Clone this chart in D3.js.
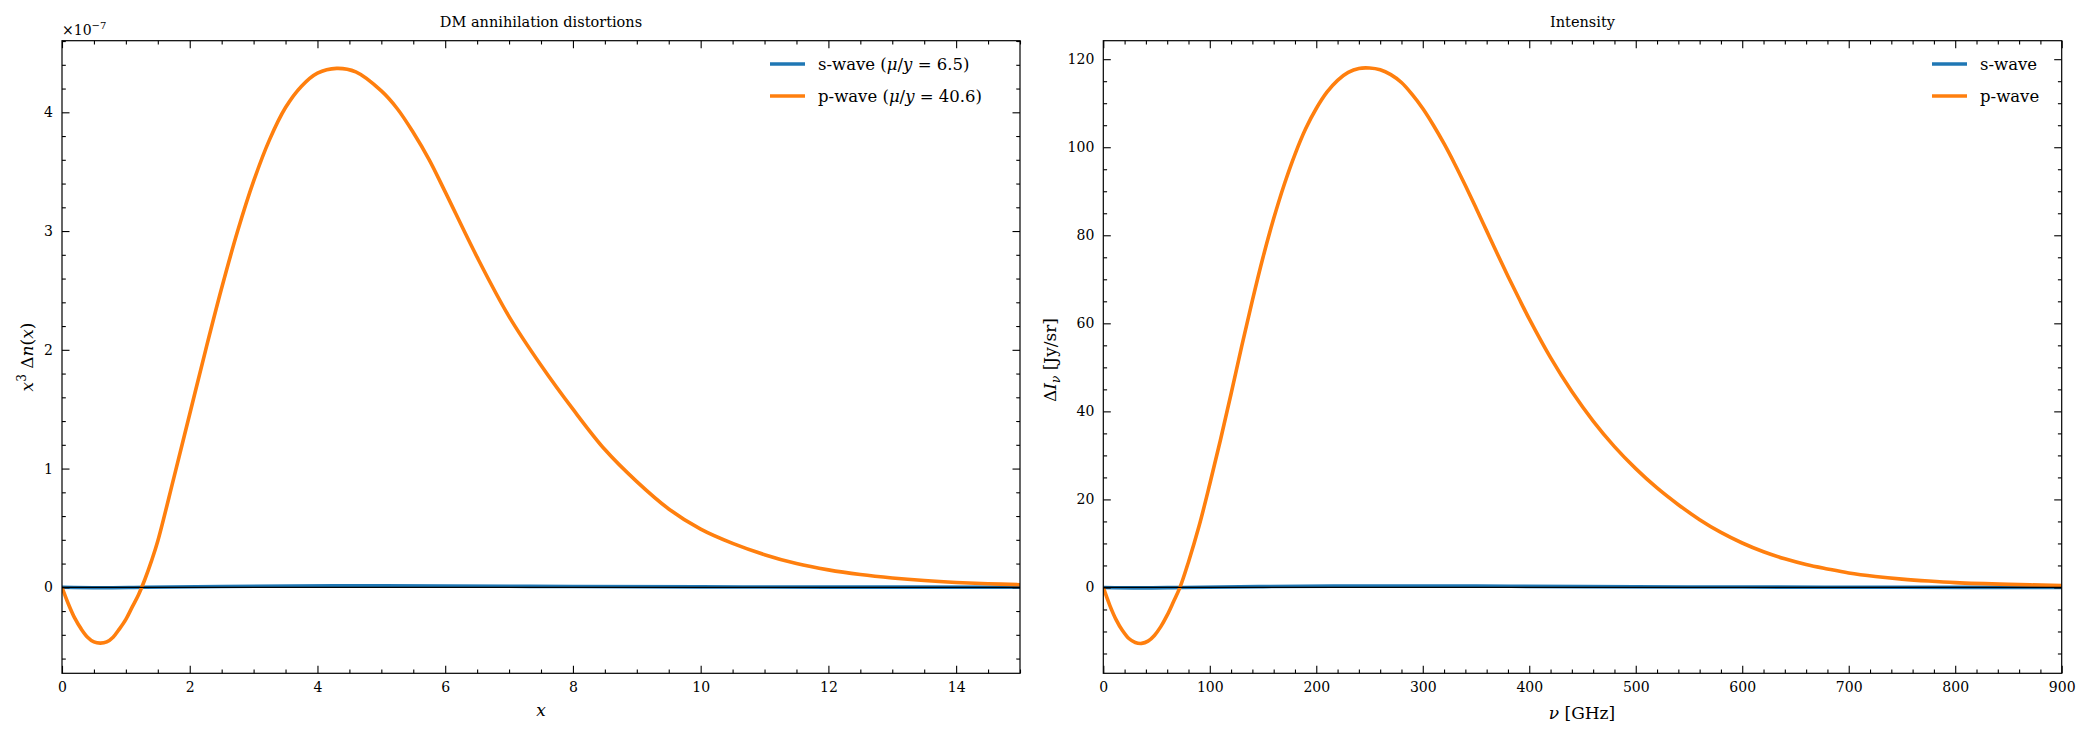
<!DOCTYPE html>
<html>
<head>
<meta charset="utf-8">
<script src="https://cdn.jsdelivr.net/npm/d3@7"></script>
<style>
  body { margin: 0; background: #fff; }
  text { font-family: "DejaVu Serif", serif; fill: #000; }
</style>
</head>
<body>
<svg id="chart" width="2089" height="739"></svg>
<script>
// left panel: x vs x^3 Δn(x)  (values in units of 1e-7)
const xGrid = [0, 0.1, 0.2, 0.3, 0.4, 0.5, 0.6, 0.7, 0.8, 0.9, 1.0, 1.1, 1.2, 1.3, 1.4, 1.5, 1.75, 2.0, 2.25, 2.5, 2.75,
  3.0, 3.25, 3.5, 3.75, 4.0, 4.3, 4.6, 5.0, 5.25, 5.5, 5.75, 6.0, 6.5, 7.0, 7.5, 8.0, 8.5, 9.0, 9.5, 10, 10.5, 11, 11.5,
  12, 12.5, 13, 13.5, 14, 14.5, 15];
const pwaveDn = [0, -0.14, -0.26, -0.35, -0.42, -0.46, -0.47, -0.46, -0.42, -0.35, -0.27, -0.165, -0.06, 0.07, 0.22,
  0.39, 0.92, 1.46, 2.0, 2.52, 3.0, 3.42, 3.77, 4.04, 4.22, 4.33, 4.37, 4.34, 4.18, 4.03, 3.83, 3.60, 3.33, 2.78, 2.28,
  1.87, 1.50, 1.16, 0.89, 0.66, 0.49, 0.37, 0.275, 0.20, 0.147, 0.108, 0.079, 0.057, 0.041, 0.030, 0.022];
const swaveX = [0, 0.6, 1.3, 2.5, 4.3, 6, 8, 10, 12, 15];
const swaveDn = [0, -0.004, 0, 0.007, 0.012, 0.011, 0.007, 0.004, 0.002, 0.001];

// right panel: ν [GHz] vs ΔI_ν [Jy/sr]
const nuGrid = [0, 6, 12, 18, 24, 30, 36, 42, 48, 54, 60, 66, 72, 80, 90, 100, 110, 120, 130, 140, 150, 160, 170, 180,
  190, 200, 210, 220, 230, 240, 250, 260, 270, 280, 290, 300, 310, 320, 330, 340, 350, 360, 370, 380, 390, 400, 420,
  440, 460, 480, 500, 520, 540, 560, 580, 600, 620, 640, 660, 680, 700, 725, 750, 775, 800, 850, 900];
const pwaveI = [0, -4, -7.3, -9.8, -11.6, -12.5, -12.7, -12.2, -10.9, -8.9, -6.3, -3.2, 0, 5.8, 14, 23.5, 33.5, 44, 54.8,
  65.2, 75, 83.8, 91.6, 98.4, 104.2, 108.8, 112.5, 115.2, 117, 117.9, 118, 117.6, 116.5, 114.7, 112.0, 108.8, 105.0,
  100.8, 96.2, 91.3, 86.2, 81.0, 75.8, 70.7, 65.8, 61, 52.2, 44.5, 37.8, 32, 27, 22.6, 18.8, 15.4, 12.5, 10.1, 8.1,
  6.5, 5.2, 4.2, 3.3, 2.5, 1.9, 1.45, 1.1, 0.7, 0.45];
const swaveNu = [0, 35, 75, 150, 250, 350, 450, 600, 750, 900];
const swaveI = [0, -0.1, 0, 0.2, 0.32, 0.3, 0.18, 0.09, 0.04, 0.02];

// ticks
const leftXTicks = [0, 2, 4, 6, 8, 10, 12, 14];
const leftYTicks = [0, 1, 2, 3, 4];
const rightXTicks = [0, 100, 200, 300, 400, 500, 600, 700, 800, 900];
const rightYTicks = [0, 20, 40, 60, 80, 100, 120];

const seriesNames = ["s-wave", "p-wave"];
const colors = ["#1f77b4", "#ff7f0e"];

const svg = d3.select("#chart");

function range(a, b, step) {
  const out = [];
  for (let v = a; v <= b + 1e-9; v += step) out.push(+v.toFixed(6));
  return out;
}

function panel(cfg) {
  const x = d3.scaleLinear().domain(cfg.xDomain).range([cfg.left, cfg.right]);
  const y = d3.scaleLinear().domain(cfg.yDomain).range([cfg.bottom, cfg.top]);
  const g = svg.append("g");
  const majorLen = 7.5, minorLen = 3.8;

  // curves
  const line = d3.line().x(d => x(d[0])).y(d => y(d[1])).curve(d3.curveCatmullRom.alpha(0.5));
  const clipId = "clip" + cfg.id;
  g.append("clipPath").attr("id", clipId).append("rect")
    .attr("x", cfg.left).attr("y", cfg.top)
    .attr("width", cfg.right - cfg.left).attr("height", cfg.bottom - cfg.top);
  const plot = g.append("g").attr("clip-path", `url(#${clipId})`);
  cfg.series.forEach((s, i) => {
    plot.append("path")
      .attr("d", line(d3.zip(s.x, s.y)))
      .attr("fill", "none")
      .attr("stroke", colors[i])
      .attr("stroke-width", 3.6)
      .attr("stroke-linejoin", "round");
  });
  plot.append("line")
    .attr("x1", cfg.left).attr("x2", cfg.right)
    .attr("y1", y(0)).attr("y2", y(0))
    .attr("stroke", "#000").attr("stroke-width", 1.2);

  // axes, ticks inward on all sides
  const xMinor = range(cfg.xDomain[0], cfg.xDomain[1], cfg.xMinor).filter(v => !cfg.xTicks.includes(v));
  const yMinor = range(Math.ceil(cfg.yDomain[0] / cfg.yMinor) * cfg.yMinor, cfg.yDomain[1], cfg.yMinor)
    .filter(v => !cfg.yTicks.some(t => Math.abs(t - v) < 1e-9));

  const addAxis = (axis, transform, labels) => {
    const a = g.append("g").attr("transform", transform).call(axis);
    a.select(".domain").remove();
    a.selectAll(".tick line").attr("stroke-width", 1.1);
    a.selectAll("text").attr("font-size", 14).attr("font-family", "DejaVu Serif");
    if (!labels) a.selectAll("text").remove();
    return a;
  };
  const fmt = d3.format("d");
  addAxis(d3.axisBottom(x).tickValues(cfg.xTicks).tickFormat(fmt).tickSize(-majorLen).tickPadding(9),
    `translate(0,${cfg.bottom})`, true);
  addAxis(d3.axisBottom(x).tickValues(xMinor).tickSize(-minorLen), `translate(0,${cfg.bottom})`, false);
  addAxis(d3.axisTop(x).tickValues(cfg.xTicks).tickSize(-majorLen), `translate(0,${cfg.top})`, false);
  addAxis(d3.axisTop(x).tickValues(xMinor).tickSize(-minorLen), `translate(0,${cfg.top})`, false);
  addAxis(d3.axisLeft(y).tickValues(cfg.yTicks).tickFormat(fmt).tickSize(-majorLen).tickPadding(9),
    `translate(${cfg.left},0)`, true);
  addAxis(d3.axisLeft(y).tickValues(yMinor).tickSize(-minorLen), `translate(${cfg.left},0)`, false);
  addAxis(d3.axisRight(y).tickValues(cfg.yTicks).tickSize(-majorLen), `translate(${cfg.right},0)`, false);
  addAxis(d3.axisRight(y).tickValues(yMinor).tickSize(-minorLen), `translate(${cfg.right},0)`, false);

  g.append("rect")
    .attr("x", cfg.left).attr("y", cfg.top)
    .attr("width", cfg.right - cfg.left).attr("height", cfg.bottom - cfg.top)
    .attr("fill", "none").attr("stroke", "#000").attr("stroke-width", 1.2);

  // title
  g.append("text")
    .attr("x", (cfg.left + cfg.right) / 2).attr("y", 27)
    .attr("text-anchor", "middle").attr("font-size", 14.5)
    .text(cfg.title);

  // legend
  const leg = g.append("g");
  cfg.legend.forEach((parts, i) => {
    const ly = 64 + i * 32;
    leg.append("line")
      .attr("x1", cfg.legendX).attr("x2", cfg.legendX + 35)
      .attr("y1", ly).attr("y2", ly)
      .attr("stroke", colors[i]).attr("stroke-width", 3.6);
    const t = leg.append("text").attr("x", cfg.legendX + 48).attr("y", ly + 6).attr("font-size", 16.5);
    parts.forEach(p => t.append("tspan").attr("font-style", p[1] ? "italic" : null).text(p[0]));
  });

  return { x, y, g };
}

panel({
  id: "L", left: 62, right: 1020, top: 40.7, bottom: 673.3,
  xDomain: [0, 15], yDomain: [-0.724, 4.603],
  xTicks: leftXTicks, yTicks: leftYTicks, xMinor: 0.5, yMinor: 0.2,
  series: [{ x: swaveX, y: swaveDn }, { x: xGrid, y: pwaveDn }],
  title: "DM annihilation distortions",
  legendX: 770,
  legend: [
    [[seriesNames[0] + " ("], ["μ", 1], ["/"], ["y", 1], [" = 6.5)"]],
    [[seriesNames[1] + " ("], ["μ", 1], ["/"], ["y", 1], [" = 40.6)"]]
  ]
});

panel({
  id: "R", left: 1103.3, right: 2061.7, top: 40.7, bottom: 673.3,
  xDomain: [0, 900], yDomain: [-19.5, 124.2],
  xTicks: rightXTicks, yTicks: rightYTicks, xMinor: 20, yMinor: 5,
  series: [{ x: swaveNu, y: swaveI }, { x: nuGrid, y: pwaveI }],
  title: "Intensity",
  legendX: 1932,
  legend: [[[seriesNames[0]]], [[seriesNames[1]]]]
});

// offset text ×10^-7
const off = svg.append("text").attr("x", 62).attr("y", 35).attr("font-size", 14);
off.append("tspan").text("×10");
off.append("tspan").attr("dy", -6).attr("font-size", 10).text("−7");

// axis labels
const xl = svg.append("text").attr("x", 541).attr("y", 716).attr("text-anchor", "middle").attr("font-size", 17);
xl.append("tspan").attr("font-style", "italic").text("x");

const nl = svg.append("text").attr("x", 1582).attr("y", 719).attr("text-anchor", "middle").attr("font-size", 17);
nl.append("tspan").attr("font-style", "italic").text("ν");
nl.append("tspan").text(" [GHz]");

const yl = svg.append("text").attr("transform", "translate(33,357) rotate(-90)")
  .attr("text-anchor", "middle").attr("font-size", 17);
yl.append("tspan").attr("font-style", "italic").text("x");
yl.append("tspan").attr("dy", -7).attr("font-size", 12).text("3");
yl.append("tspan").attr("dy", 7).text(" Δ");
yl.append("tspan").attr("font-style", "italic").text("n");
yl.append("tspan").text("(");
yl.append("tspan").attr("font-style", "italic").text("x");
yl.append("tspan").text(")");

const yr = svg.append("text").attr("transform", "translate(1056,360) rotate(-90)")
  .attr("text-anchor", "middle").attr("font-size", 17);
yr.append("tspan").text("Δ");
yr.append("tspan").attr("font-style", "italic").text("I");
yr.append("tspan").attr("font-style", "italic").attr("dy", 4).attr("font-size", 12).text("ν");
yr.append("tspan").attr("dy", -4).text(" [Jy/sr]");
</script>
</body>
</html>
